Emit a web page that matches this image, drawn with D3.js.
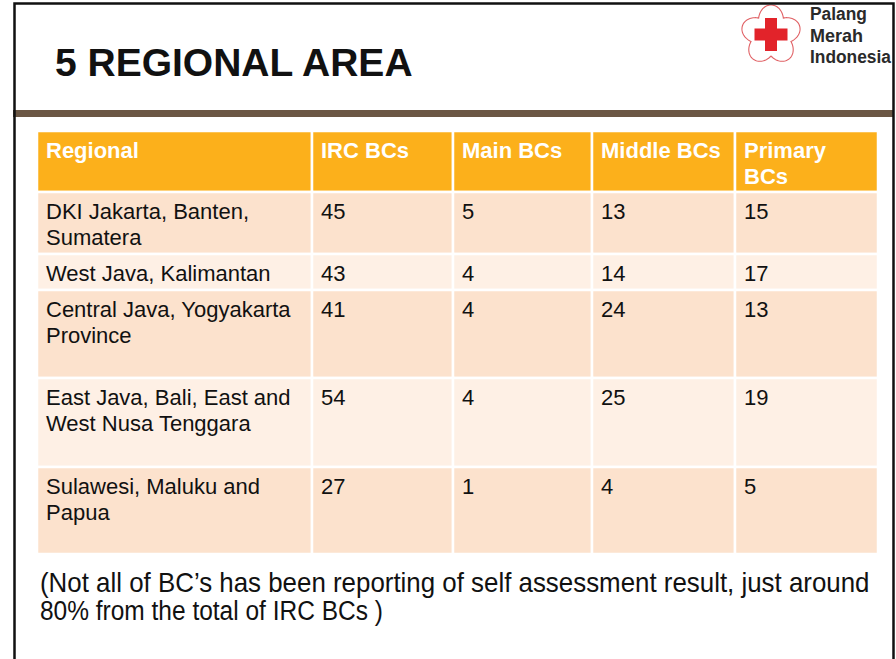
<!DOCTYPE html>
<html>
<head>
<meta charset="utf-8">
<script src="https://cdn.jsdelivr.net/npm/d3@7.9.0/dist/d3.min.js"></script>
<style>
  html, body { margin: 0; padding: 0; background: #fff; }
  svg { display: block; font-family: "Liberation Sans", Arial, sans-serif; }
</style>
</head>
<body>
<svg id="slide" width="896" height="659"></svg>
<script>
// table data
const title = "5 REGIONAL AREA";
const headers = ["Regional", "IRC BCs", "Main BCs", "Middle BCs", "Primary BCs"];
const regions = [
  "DKI Jakarta, Banten, Sumatera",
  "West Java, Kalimantan",
  "Central Java, Yogyakarta Province",
  "East Java, Bali, East and West Nusa Tenggara",
  "Sulawesi, Maluku and Papua"
];
const ircBCs = [45, 43, 41, 54, 27];
const mainBCs = [5, 4, 4, 4, 1];
const middleBCs = [13, 14, 24, 25, 4];
const primaryBCs = [15, 17, 13, 19, 5];
const logoLines = ["Palang", "Merah", "Indonesia"];
const noteLines = [
  "(Not all of BC\u2019s has been reporting of self assessment result, just around",
  "80% from the total of IRC BCs )"
];

// layout
const colWidths = [275, 141, 139, 143, 143];
const rowHeights = [61, 62, 36, 88, 89, 87];
const tableLeft = 37, tableTop = 131;
const pad = 9, lineH = 26;

const svg = d3.select("#slide");

const colEdges = [tableLeft, ...d3.cumsum(colWidths).map(d => tableLeft + d)];
const rowEdges = [tableTop, ...d3.cumsum(rowHeights).map(d => tableTop + d)];
const x = d3.scaleOrdinal().domain(d3.range(colWidths.length)).range(colEdges);
const y = d3.scaleOrdinal().domain(d3.range(rowHeights.length)).range(rowEdges);

// squeeze a text horizontally to a given width (narrow font look)
function fitWidth(sel, x0, y0, w) {
  const natural = sel.node().getComputedTextLength();
  sel.attr("x", 0).attr("y", 0)
    .attr("transform", `translate(${x0},${y0}) scale(${w / natural},1)`);
}

// header bar + title
svg.append("rect")
  .attr("x", 13).attr("y", 110).attr("width", 881).attr("height", 7)
  .attr("fill", "#6b5744");

svg.append("text")
  .attr("x", 55).attr("y", 76)
  .attr("font-size", 39).attr("font-weight", "bold")
  .attr("fill", "#111")
  .text(title);

// logo
const flower = d3.lineRadial()
  .angle(d => d)
  .radius(d => 21 + 9 * Math.abs(Math.cos(d * 2.5)))
  .curve(d3.curveLinearClosed);

const logo = svg.append("g").attr("transform", "translate(771,35)");
logo.append("path")
  .attr("d", flower(d3.range(0, Math.PI * 2, Math.PI / 90)))
  .attr("fill", "none").attr("stroke", "#e06064").attr("stroke-width", 1.1);
logo.append("rect").attr("x", -6).attr("y", -17).attr("width", 12).attr("height", 33).attr("fill", "#e2232a");
logo.append("rect").attr("x", -16.5).attr("y", -6.5).attr("width", 33).attr("height", 12).attr("fill", "#e2232a");

const logoLen = [57, 53, 81];
svg.append("g").selectAll("text")
  .data(logoLines)
  .join("text")
  .attr("font-size", 19).attr("font-weight", "bold")
  .attr("fill", "#2a2a2a")
  .text(d => d)
  .each(function (d, i) { fitWidth(d3.select(this), 810, 20 + i * 21.5, logoLen[i]); });

// table rows
const rows = [headers].concat(regions.map((r, i) => [r, ircBCs[i], mainBCs[i], middleBCs[i], primaryBCs[i]]));
const fills = ["#fcb01b", "#fce2cd", "#fef0e5", "#fce2cd", "#fef0e5", "#fce2cd"];

function wrap(textSel, width) {
  textSel.each(function () {
    const t = d3.select(this);
    const words = t.text().split(/\s+/);
    const x0 = t.attr("x"), y0 = +t.attr("y");
    t.text(null);
    let line = [], lineNo = 0;
    let tspan = t.append("tspan").attr("x", x0).attr("y", y0);
    for (const w of words) {
      line.push(w);
      tspan.text(line.join(" "));
      if (tspan.node().getComputedTextLength() > width && line.length > 1) {
        line.pop();
        tspan.text(line.join(" "));
        line = [w];
        lineNo++;
        tspan = t.append("tspan").attr("x", x0).attr("y", y0 + lineNo * lineH).text(w);
      }
    }
  });
}

const table = svg.append("g");
rows.forEach((row, r) => {
  const g = table.append("g");
  g.selectAll("rect")
    .data(row)
    .join("rect")
    .attr("x", (d, c) => x(c))
    .attr("y", y(r))
    .attr("width", (d, c) => colWidths[c])
    .attr("height", rowHeights[r])
    .attr("fill", fills[r])
    .attr("stroke", "#fff")
    .attr("stroke-width", 2.5);

  g.selectAll("text")
    .data(row)
    .join("text")
    .attr("x", (d, c) => x(c) + pad)
    .attr("y", y(r) + 26.5)
    .attr("font-size", 22)
    .attr("font-weight", r === 0 ? "bold" : "normal")
    .attr("fill", r === 0 ? "#fff" : "#111")
    .text(d => d)
    .each(function (d, c) { wrap(d3.select(this), colWidths[c] - 2 * pad); });
});

// footnote (condensed, justified first line)
const noteLen = [830, 343];
svg.append("g").selectAll("text")
  .data(noteLines)
  .join("text")
  .attr("font-size", 27)
  .attr("fill", "#111")
  .text(d => d)
  .each(function (d, i) { fitWidth(d3.select(this), 40, 592 + i * 28, noteLen[i]); });

// slide frame
svg.append("path")
  .attr("d", "M14.5,680V3.5H893.5V680")
  .attr("fill", "none")
  .attr("stroke", "#111")
  .attr("stroke-width", 2.5);
</script>
</body>
</html>
